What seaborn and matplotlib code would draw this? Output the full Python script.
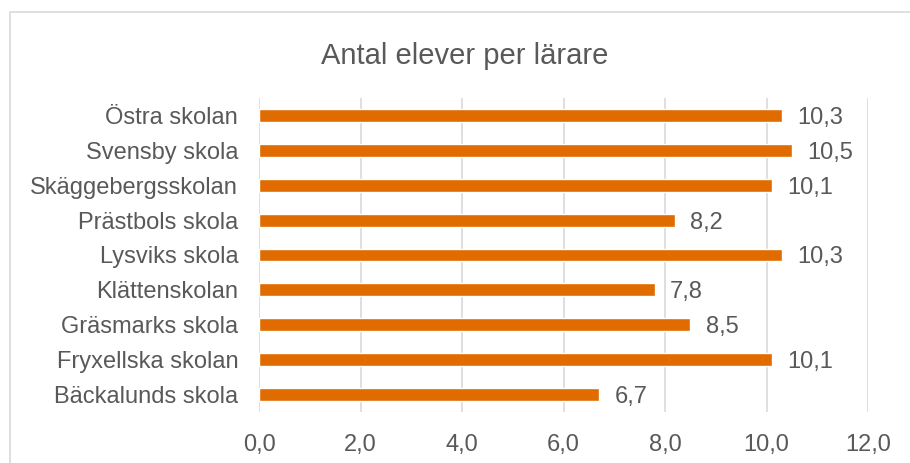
import matplotlib
matplotlib.use("Agg")
import matplotlib.pyplot as plt
import seaborn as sns
import pandas as pd
from matplotlib.patches import Rectangle

schools = ["Östra skolan", "Svensby skola", "Skäggebergsskolan", "Prästbols skola",
           "Lysviks skola", "Klättenskolan", "Gräsmarks skola", "Fryxellska skolan",
           "Bäckalunds skola"]
students_per_teacher = [10.3, 10.5, 10.1, 8.2, 10.3, 7.8, 8.5, 10.1, 6.7]
x_ticks = [0, 2, 4, 6, 8, 10, 12]

df = pd.DataFrame({"skola": schools, "elever": students_per_teacher})

sns.set_style("white")
plt.rcParams["font.family"] = ["Liberation Sans", "DejaVu Sans"]
text_color = "#595959"
bar_color = "#E06C00"
fs = 17

fig = plt.figure(figsize=(9.1, 4.63), dpi=100)
ax = fig.add_axes([259 / 910, 1 - 412 / 463, (868 - 259) / 910, (412 - 98) / 463])

sns.barplot(data=df, x="elever", y="skola", color=bar_color, width=0.37,
            saturation=1, ax=ax, zorder=3)

# värdeetiketter med decimalkomma
for i, v in enumerate(students_per_teacher):
    ax.text(v + 0.3, i, f"{v:.1f}".replace(".", ","), va="center_baseline", ha="left",
            fontsize=fs, color=text_color)

ax.set_xlim(0, 12)
ax.set_ylim(8.5, -0.5)
ax.set_xticks(x_ticks)
ax.set_xticklabels([f"{t:.1f}".replace(".", ",") for t in x_ticks])
ax.tick_params(axis="both", length=0, labelsize=fs, labelcolor=text_color)
ax.tick_params(axis="x", pad=16)
ax.tick_params(axis="y", pad=15)
ax.set_xlabel("")
ax.set_ylabel("")
ax.grid(axis="x", color="#D9D9D9", linewidth=1.2, zorder=0)
for s in ax.spines.values():
    s.set_visible(False)

fig.text(465 / 910, 1 - 56 / 463, "Antal elever per lärare", ha="center", va="center",
         fontsize=21, color=text_color)

# ram runt diagrammet
fig.patches.append(Rectangle((10 / 910, -0.1), 1.2, 1 - 12 / 463 + 0.1,
                             transform=fig.transFigure, fill=False,
                             edgecolor="#D9D9D9", linewidth=1.2))

fig.savefig("out.png", dpi=100)
